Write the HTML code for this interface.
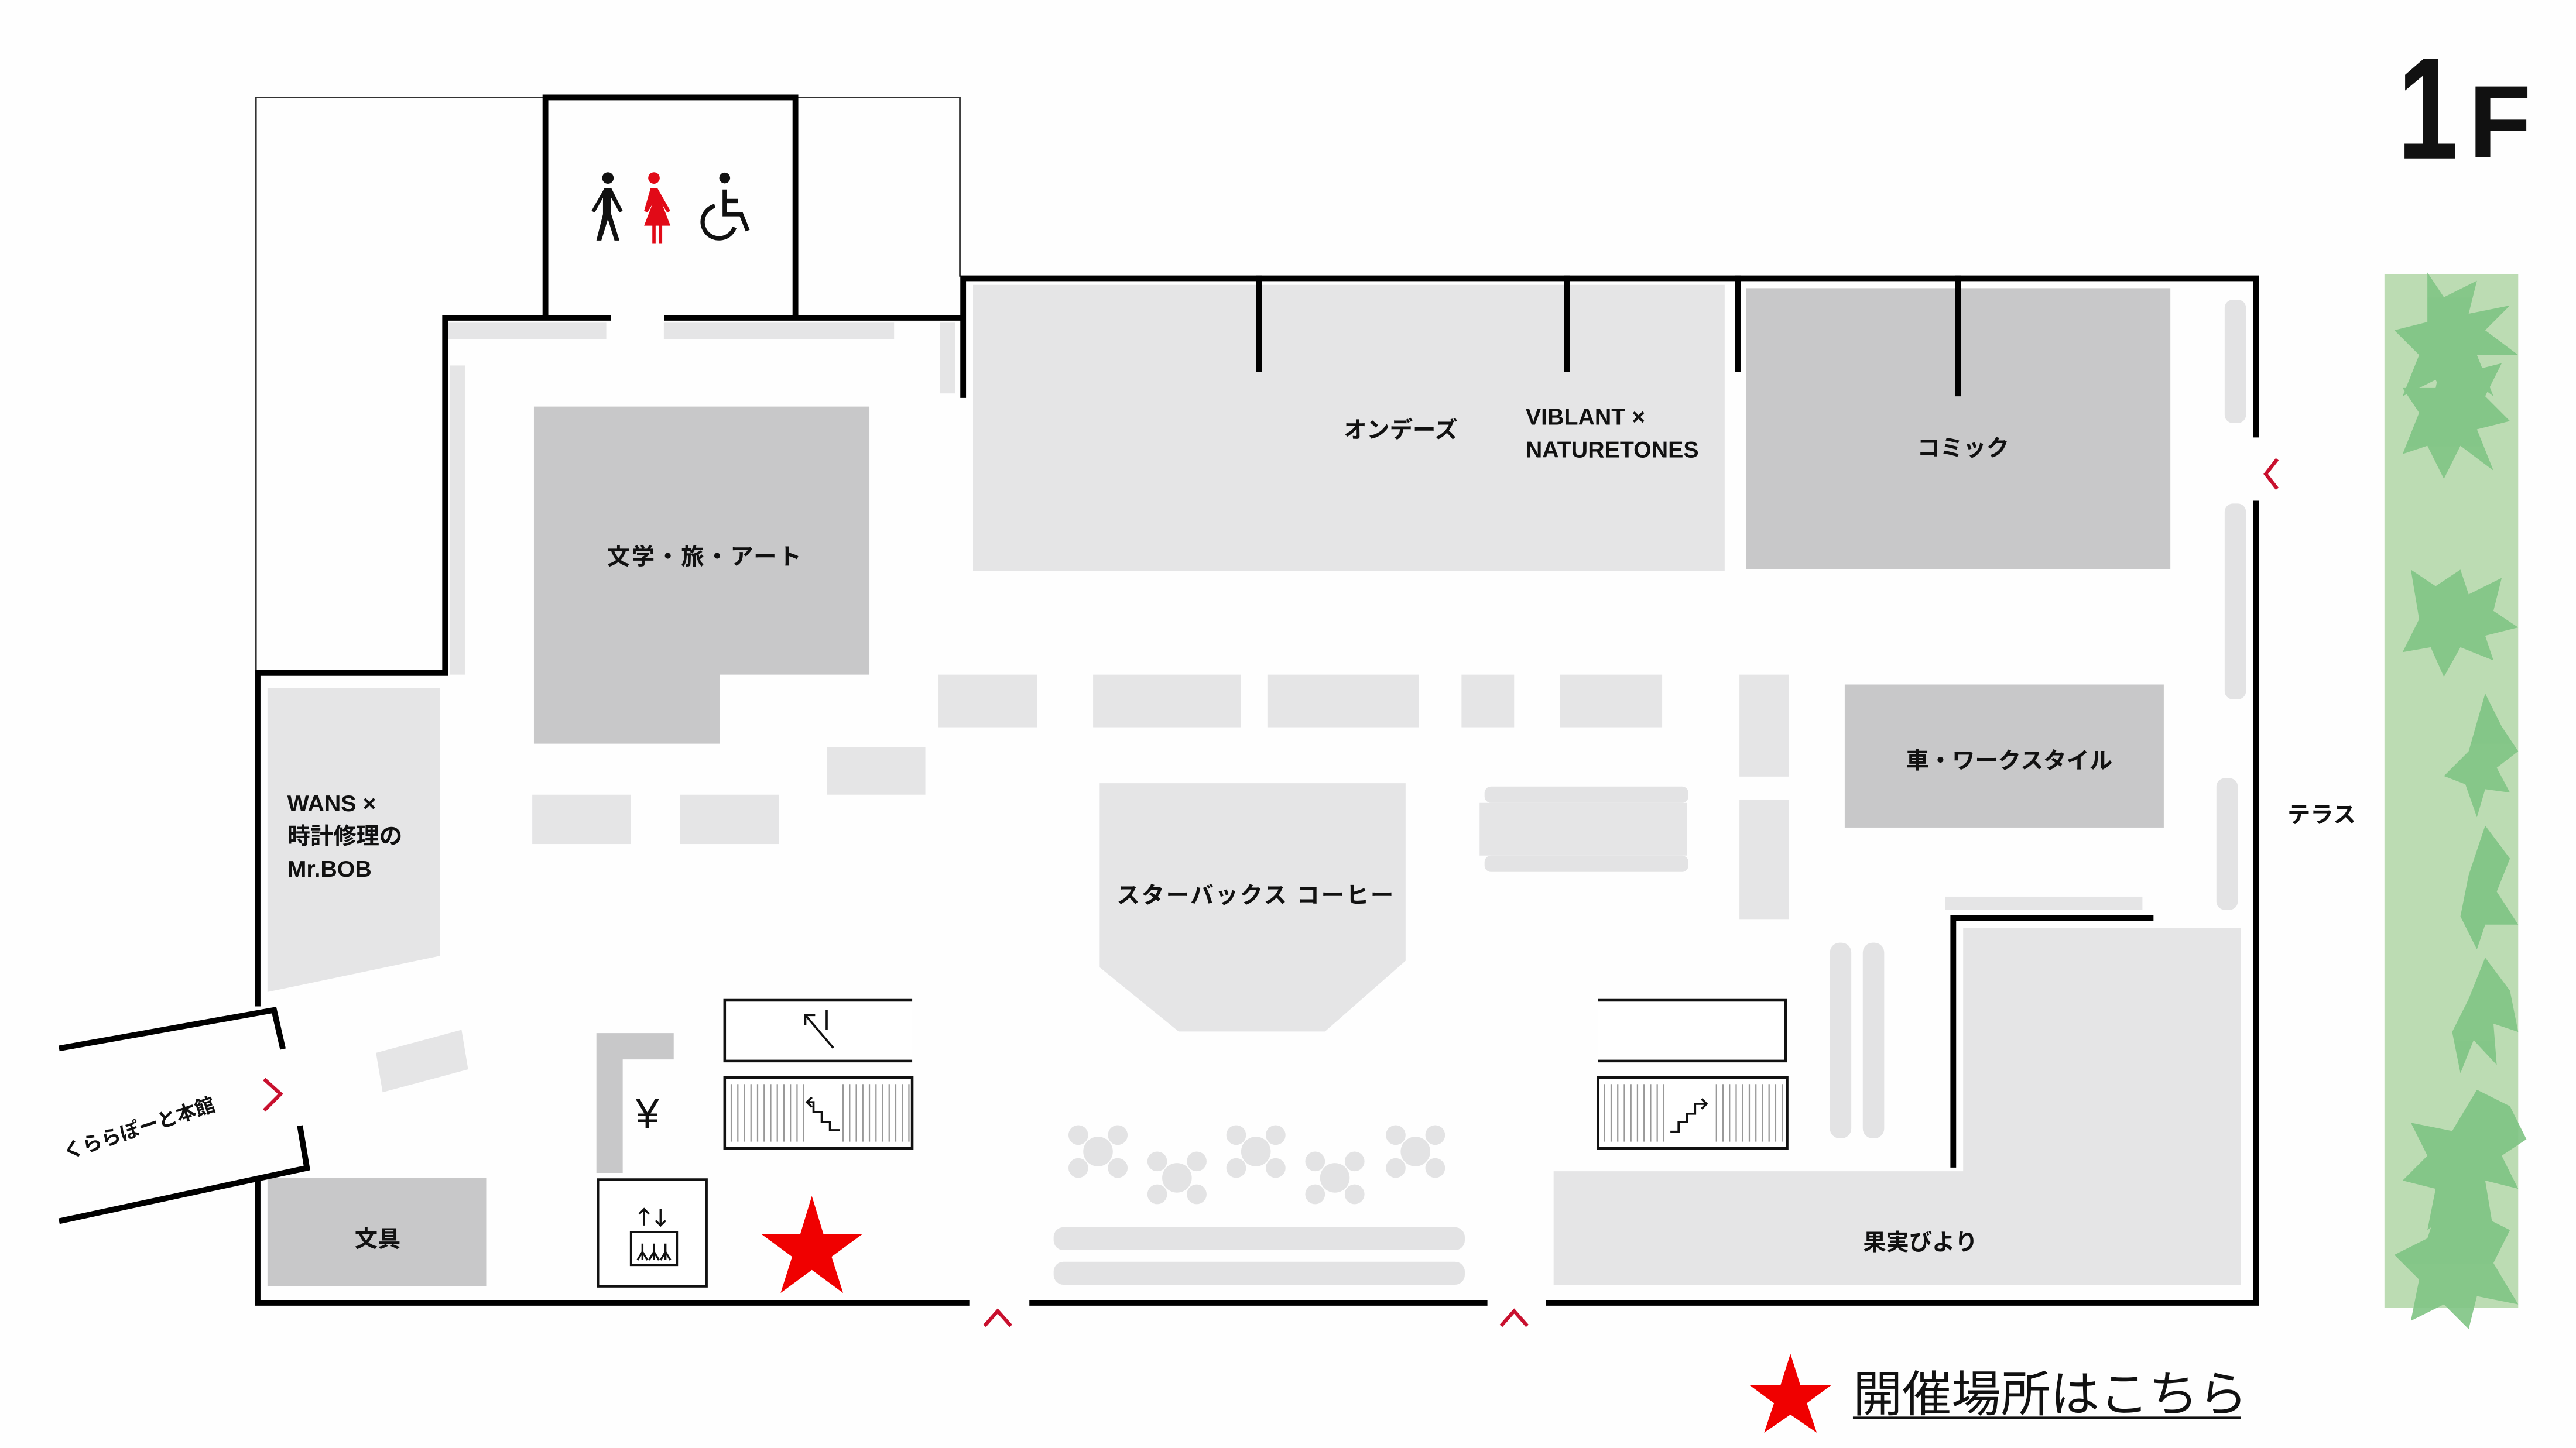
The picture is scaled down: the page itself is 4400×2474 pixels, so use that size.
<!DOCTYPE html>
<html><head><meta charset="utf-8"><style>
html,body{margin:0;padding:0;background:#fff;}
svg{display:block;}
text{font-family:"Liberation Sans","Noto Sans CJK JP",sans-serif;font-weight:bold;fill:#111;}
</style></head><body>
<svg width="4400" height="2474" viewBox="0 0 1560 877" preserveAspectRatio="none" xmlns="http://www.w3.org/2000/svg">
<rect width="1560" height="877" fill="#fefefe"/>
<!-- green terrace strip -->
<rect x="1444" y="166" width="81" height="626" fill="#bcdcb3"/>
<g fill="#7fc484" opacity="0.9">
<polygon points="1470,165 1480,180 1500,170 1495,190 1520,185 1505,200 1525,215 1500,215 1510,240 1490,225 1485,250 1475,230 1455,240 1465,215 1450,200 1470,195"/>
<polygon points="1480,210 1495,225 1515,220 1505,240 1520,255 1500,260 1510,285 1490,270 1480,290 1470,270 1455,275 1465,250 1455,235 1475,235"/>
<polygon points="1460,345 1475,355 1490,345 1495,360 1515,350 1510,370 1525,380 1505,385 1510,400 1490,392 1480,410 1472,392 1455,395 1465,375"/>
<polygon points="1505,420 1515,440 1525,455 1512,465 1520,480 1505,478 1500,495 1493,475 1480,470 1495,455"/>
<polygon points="1505,580 1520,600 1525,625 1510,620 1512,645 1498,630 1490,650 1485,625 1495,605"/>
<polygon points="1500,660 1520,670 1530,690 1515,700 1525,720 1505,715 1510,745 1490,730 1470,745 1475,720 1455,715 1470,700 1460,680 1485,685"/>
<polygon points="1480,720 1500,735 1520,745 1510,765 1525,790 1500,785 1495,805 1480,790 1460,800 1465,775 1450,760 1470,750"/>
<polygon points="1505,500 1520,520 1512,540 1525,560 1505,560 1500,575 1490,555 1495,530"/>
</g>
<!-- 1F -->
<text x="1452" y="96" font-size="88" style="font-weight:900" transform="translate(1452,96) scale(0.75,1) translate(-1452,-96)">1</text>
<text x="1495" y="95" font-size="62" style="font-weight:900">F</text>

<g transform="translate(156,59) scale(0.996) translate(-156,-59)">
<!-- light areas -->
<g fill="#e5e5e6">
<rect x="272" y="196" width="96" height="10"/>
<rect x="403" y="196" width="140" height="10"/>
<rect x="273" y="222" width="9" height="188"/>
<rect x="571" y="196" width="9" height="43"/>
<rect x="591" y="173" width="457" height="174"/>
<polygon points="162,418 267,418 267,581 162,603"/>
<rect x="570" y="410" width="60" height="32"/>
<rect x="664" y="410" width="90" height="32"/>
<rect x="770" y="410" width="92" height="32"/>
<rect x="888" y="410" width="32" height="32"/>
<rect x="948" y="410" width="62" height="32"/>
<rect x="1057" y="410" width="30" height="62"/>
<rect x="1057" y="486" width="30" height="73"/>
<rect x="323" y="483" width="60" height="30"/>
<rect x="413" y="483" width="60" height="30"/>
<rect x="502" y="454" width="60" height="29"/>
<polygon points="228,640 280,626 284,650 232,664"/>
<polygon points="668,476 854,476 854,584 805,627 716,627 668,588"/>
<rect x="899" y="488" width="126" height="32"/>
<rect x="1182" y="545" width="120" height="8"/>
<polygon points="1193,564 1362,564 1362,781 944,781 944,712 1193,712"/>
</g>
<!-- seat dots -->
<g fill="#e3e3e4">
<rect x="1352" y="182" width="13" height="75" rx="5"/>
<rect x="1352" y="306" width="13" height="119" rx="5"/>
<rect x="1347" y="473" width="13" height="80" rx="5"/>
<rect x="1112" y="573" width="13" height="119" rx="6"/>
<rect x="1132" y="573" width="13" height="119" rx="6"/>
<rect x="902" y="478" width="124" height="10" rx="4"/>
<rect x="902" y="520" width="124" height="10" rx="4"/>
<rect x="640" y="746" width="250" height="14" rx="6"/>
<rect x="640" y="767" width="250" height="14" rx="6"/>
</g>
<g fill="#e3e3e4">
<g transform="translate(667,700)"><circle r="9"/><circle cx="-12" cy="-10" r="6"/><circle cx="12" cy="-10" r="6"/><circle cx="-12" cy="10" r="6"/><circle cx="12" cy="10" r="6"/></g>
<g transform="translate(715,716)"><circle r="9"/><circle cx="-12" cy="-10" r="6"/><circle cx="12" cy="-10" r="6"/><circle cx="-12" cy="10" r="6"/><circle cx="12" cy="10" r="6"/></g>
<g transform="translate(763,700)"><circle r="9"/><circle cx="-12" cy="-10" r="6"/><circle cx="12" cy="-10" r="6"/><circle cx="-12" cy="10" r="6"/><circle cx="12" cy="10" r="6"/></g>
<g transform="translate(811,716)"><circle r="9"/><circle cx="-12" cy="-10" r="6"/><circle cx="12" cy="-10" r="6"/><circle cx="-12" cy="10" r="6"/><circle cx="12" cy="10" r="6"/></g>
<g transform="translate(860,700)"><circle r="9"/><circle cx="-12" cy="-10" r="6"/><circle cx="12" cy="-10" r="6"/><circle cx="-12" cy="10" r="6"/><circle cx="12" cy="10" r="6"/></g>
</g>
<!-- dark areas -->
<g fill="#c8c8c9">
<polygon points="324,247 528,247 528,410 437,410 437,452 324,452"/>
<rect x="1061" y="175" width="258" height="171"/>
<rect x="1121" y="416" width="194" height="87"/>
<rect x="162" y="716" width="133" height="66"/>
<polygon points="362,628 409,628 409,644 378,644 378,713 362,713"/>
</g>

<!-- thin outer lines -->
<g stroke="#333" stroke-width="1" fill="none">
<polyline points="155,408 155,59 583,59 583,168"/>
</g>
<!-- thick walls -->
<g stroke="#000" stroke-width="3.5" fill="none" stroke-linecap="square">
<polyline points="331,192 331,59 483,59 483,192"/>
<polyline points="369,193 270,193 270,409 156,409 156,610"/>
<line x1="405" y1="193" x2="583" y2="193"/>
<polyline points="585,240 585,169 1371,169 1371,264"/>
<line x1="765" y1="169" x2="765" y2="224"/>
<line x1="952" y1="169" x2="952" y2="224"/>
<line x1="1056" y1="169" x2="1056" y2="224"/>
<line x1="1190" y1="169" x2="1190" y2="239"/>
<polyline points="1371,306 1371,792 941,792"/>
<line x1="627" y1="792" x2="902" y2="792"/>
<polyline points="587,792 156,792 156,718"/>
<polyline points="37,637 166,614 171,636"/>
<polyline points="37,742 186,710 182,686"/>
<polyline points="1187,708 1187,558 1307,558"/>
</g>
<!-- escalators -->
<g stroke="#111" stroke-width="1.6" fill="#fff">
<polyline points="554,608 440,608 440,645 554,645"/>
<polyline points="971,608 1085,608 1085,645 971,645"/>
</g>
<g>
<rect x="440" y="655" width="114" height="43" fill="#fff" stroke="#111" stroke-width="1.6"/>
<rect x="971" y="655" width="115" height="43" fill="#fff" stroke="#111" stroke-width="1.6"/>
<g stroke="#999" stroke-width="0.8">
<path d="M444 659V694M448 659V694M452 659V694M456 659V694M460 659V694M464 659V694M468 659V694M472 659V694M476 659V694M480 659V694M484 659V694M488 659V694M512 659V694M516 659V694M520 659V694M524 659V694M528 659V694M532 659V694M536 659V694M540 659V694M544 659V694M548 659V694M552 659V694"/>
<path d="M975 659V694M979 659V694M983 659V694M987 659V694M991 659V694M995 659V694M999 659V694M1003 659V694M1007 659V694M1011 659V694M1043 659V694M1047 659V694M1051 659V694M1055 659V694M1059 659V694M1063 659V694M1067 659V694M1071 659V694M1075 659V694M1079 659V694M1083 659V694"/>
</g>
<g stroke="#111" stroke-width="1.3" fill="none">
<polyline points="490,670 494,670 494,676 499,676 499,682 504,682 504,687 510,687"/>
<polyline points="493,673 490,670 493,667"/>
<polyline points="1015,688 1020,688 1020,682 1025,682 1025,677 1030,677 1030,671 1037,671"/>
<polyline points="1034,668 1037,671 1034,674"/>
<line x1="489" y1="617" x2="506" y2="637"/>
<polyline points="489,623 489,617 495,617"/>
<line x1="502" y1="614" x2="502" y2="626"/>
</g>
</g>
<!-- elevator -->
<rect x="363" y="717" width="66" height="65" fill="#fff" stroke="#111" stroke-width="1.4"/>
<rect x="383" y="749" width="28" height="20" fill="#fff" stroke="#111" stroke-width="1.3"/>
<g stroke="#111" stroke-width="1.2" fill="none">
<path d="M391 745V735M388 738L391 735L394 738M401 735V745M398 742L401 745L404 742"/>
<path d="M390 756V766M387 766L390 761L393 766M397 756V766M394 766L397 761L400 766M404 756V766M401 766L404 761L407 766"/>
</g>
<text x="393" y="686" font-size="26" text-anchor="middle" style="font-weight:normal">¥</text>

<!-- toilet icons -->
<g fill="#111">
<circle cx="369" cy="108" r="3.5"/>
<path d="M367 114h4l7 14-2 1-5-9v10l5 16h-3l-4-13-4 13h-3l4-16v-10l-5 9-2-1z"/>
</g>
<g fill="#e10a17">
<circle cx="397" cy="108" r="3.5"/>
<path d="M395 114h4l8 14-2 1-3-5 5 13h-5v11h-2v-11h-2v11h-2v-11h-5l5-13-3 5-2-1z"/>
</g>
<g fill="none" stroke="#111" stroke-width="2.6">
<path d="M434 125a10 10 0 1 0 12 13"/>
<polyline points="440,115 440,130 450,130 454,140"/>
<line x1="440" y1="122" x2="448" y2="122"/>
</g>
<circle cx="440" cy="108" r="3.3" fill="#111"/>

<!-- red arrows -->
<g stroke="#c8102e" stroke-width="2.2" fill="none">
<polyline points="1384,279 1377,288 1384,297"/>
<polyline points="160,656 170,665 160,675"/>
<polyline points="598,806 606,797 614,806"/>
<polyline points="912,806 920,797 928,806"/>
</g>

<!-- red stars -->
<polygon fill="#f00000" points="493,727 500,750 524,750 505,764 512,786 493,772 474,786 481,764 462,750 486,750"/>
<polygon fill="#f00000" points="1088,823 1094,842 1113,842 1098,853 1104,871 1088,860 1072,871 1078,853 1063,842 1082,842"/>

<!-- labels -->
<g font-size="14">
<text x="428" y="343" text-anchor="middle" letter-spacing="1">文学・旅・アート</text>
<text x="851" y="266" text-anchor="middle">オンデーズ</text>
<text x="927" y="258">VIBLANT ×</text>
<text x="927" y="278">NATURETONES</text>
<text x="1193" y="277" text-anchor="middle">コミック</text>
<text x="1221" y="467" text-anchor="middle">車・ワークスタイル</text>
<text x="763" y="549" text-anchor="middle" letter-spacing="1">スターバックス コーヒー</text>
<text x="174" y="493">WANS ×</text>
<text x="174" y="513">時計修理の</text>
<text x="174" y="533">Mr.BOB</text>
<text x="229" y="758" text-anchor="middle">文具</text>
<text x="1167" y="760" text-anchor="middle">果実びより</text>
<text x="1411" y="500" text-anchor="middle">テラス</text>
<text x="84" y="690" font-size="12" text-anchor="middle" transform="rotate(-18 84 686)">くららぽーと本館</text>
</g>
<text x="1126" y="858" font-size="30" style="font-weight:normal">開催場所はこちら</text>
<line x1="1126" y1="862" x2="1362" y2="862" stroke="#111" stroke-width="1.6"/>
</g>
</svg>
</body></html>
